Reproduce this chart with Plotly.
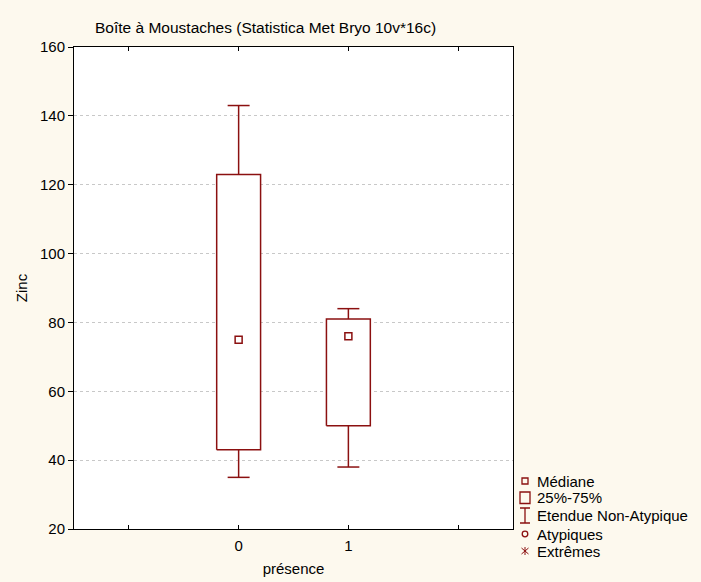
import plotly.graph_objects as go

# ---- data ----
categories = [0, 1]
category_labels = ["0", "1"]
upper_whisker = [143, 84]
q3 = [123, 81]
median = [75, 76]
q1 = [43, 50]
lower_whisker = [35, 38]

legend_labels = ["Médiane", "25%-75%", "Etendue Non-Atypique", "Atypiques", "Extrêmes"]

# ---- style ----
W, H = 701, 582
L, R, T, B = 74, 188, 47, 53
RED = "#8b1010"
FONT = "Liberation Sans, Arial, sans-serif"
BG = "#fdf9ee"
BOX_HALF = 0.2
CAP_HALF = 0.1
FS = 15

box_x, box_y = [], []
wh_x, wh_y = [], []
for xi, a, b, c, d in zip(categories, lower_whisker, q1, q3, upper_whisker):
    box_x += [xi - BOX_HALF, xi + BOX_HALF, xi + BOX_HALF, xi - BOX_HALF, xi - BOX_HALF, None]
    box_y += [b, b, c, c, b, None]
    wh_x += [xi, xi, None, xi - CAP_HALF, xi + CAP_HALF, None,
             xi, xi, None, xi - CAP_HALF, xi + CAP_HALF, None]
    wh_y += [c, d, None, d, d, None, b, a, None, a, a, None]

fig = go.Figure()
fig.add_trace(go.Scatter(x=box_x, y=box_y, mode="lines", fill="toself",
                         fillcolor="white", line=dict(color=RED, width=1.5),
                         showlegend=False, hoverinfo="skip"))
fig.add_trace(go.Scatter(x=wh_x, y=wh_y, mode="lines",
                         line=dict(color=RED, width=1.5),
                         showlegend=False, hoverinfo="skip"))
fig.add_trace(go.Scatter(x=categories, y=median, mode="markers",
                         marker=dict(symbol="square-open", size=7, color=RED,
                                     line=dict(width=1.5, color=RED)),
                         showlegend=False))

# ---- manual legend ----
pw, ph = W - L - R, H - T - B
def px(x):
    return (x - L) / pw
def py(y):
    return (H - B - y) / ph

leg_y = [481, 497.5, 515, 534, 551]
sym_x = 525
text_x = 535
shapes = []
annotations = []
for lab, yy in zip(legend_labels, leg_y):
    annotations.append(dict(x=px(text_x), y=py(yy), xref="paper", yref="paper",
                            text=lab, showarrow=False, xanchor="left", yanchor="middle",
                            font=dict(size=FS, color="black", family=FONT)))
lw = 1.3
# Médiane: small square
shapes.append(dict(type="rect", xref="paper", yref="paper",
                   x0=px(sym_x - 3), x1=px(sym_x + 3), y0=py(leg_y[0] + 3), y1=py(leg_y[0] - 3),
                   line=dict(color=RED, width=lw)))
# 25%-75%: bigger rect
shapes.append(dict(type="rect", xref="paper", yref="paper",
                   x0=px(sym_x - 5), x1=px(sym_x + 5), y0=py(leg_y[1] + 6), y1=py(leg_y[1] - 5.5),
                   line=dict(color=RED, width=lw)))
# Etendue: I shape
yc = leg_y[2]
shapes.append(dict(type="path", xref="paper", yref="paper",
                   path=f"M {px(sym_x-5)},{py(yc-7)} L {px(sym_x+5)},{py(yc-7)} "
                        f"M {px(sym_x)},{py(yc-7)} L {px(sym_x)},{py(yc+8)} "
                        f"M {px(sym_x-5)},{py(yc+8)} L {px(sym_x+5)},{py(yc+8)}",
                   line=dict(color=RED, width=lw)))
# Atypiques: circle
shapes.append(dict(type="circle", xref="paper", yref="paper",
                   x0=px(sym_x - 2.8), x1=px(sym_x + 2.8), y0=py(leg_y[3] + 2.8), y1=py(leg_y[3] - 2.8),
                   line=dict(color=RED, width=lw)))
# Extrêmes: asterisk
yc = leg_y[4]
shapes.append(dict(type="path", xref="paper", yref="paper",
                   path=f"M {px(sym_x)},{py(yc-4)} L {px(sym_x)},{py(yc+4)} "
                        f"M {px(sym_x-3.5)},{py(yc-3)} L {px(sym_x+3.5)},{py(yc+3)} "
                        f"M {px(sym_x-3.5)},{py(yc+3)} L {px(sym_x+3.5)},{py(yc-3)}",
                   line=dict(color=RED, width=1)))

fig.update_layout(
    width=W, height=H,
    margin=dict(l=L, r=R, t=T, b=B),
    paper_bgcolor=BG, plot_bgcolor="white",
    font=dict(family=FONT, size=FS, color="black"),
    title=dict(text="Boîte à Moustaches (Statistica Met Bryo 10v*16c)",
               x=(95 - L) / pw, xref="paper", xanchor="left",
               y=1 - 28 / H, yref="container", yanchor="middle",
               font=dict(size=15.5, family=FONT, color="black")),
    shapes=shapes, annotations=annotations,
    showlegend=False,
)
fig.update_xaxes(range=[-1.5, 2.5], tickvals=[-1] + categories + [2],
                 ticktext=[""] + category_labels + [""],
                 ticks="inside", ticklen=4, tickcolor="black",
                 showline=True, linecolor="black", linewidth=1, mirror="ticks",
                 showgrid=False, zeroline=False, ticklabelstandoff=3,
                 automargin=False,
                 title=dict(text="présence", standoff=10, font=dict(size=FS)),
                 tickfont=dict(size=FS))
fig.update_yaxes(range=[20, 160], dtick=20, tick0=20,
                 ticks="outside", ticklen=5, tickcolor="black",
                 showline=True, linecolor="black", linewidth=1, mirror=True,
                 showgrid=True, gridcolor="#c8c8c8", griddash="dot", gridwidth=1,
                 zeroline=False, automargin=False,
                 title=dict(text="Zinc", standoff=8, font=dict(size=FS)),
                 tickfont=dict(size=FS))

fig.write_html("out.html", config={"displayModeBar": False},
               post_script="document.body.style.margin='0px';document.body.style.background='%s';" % BG)
